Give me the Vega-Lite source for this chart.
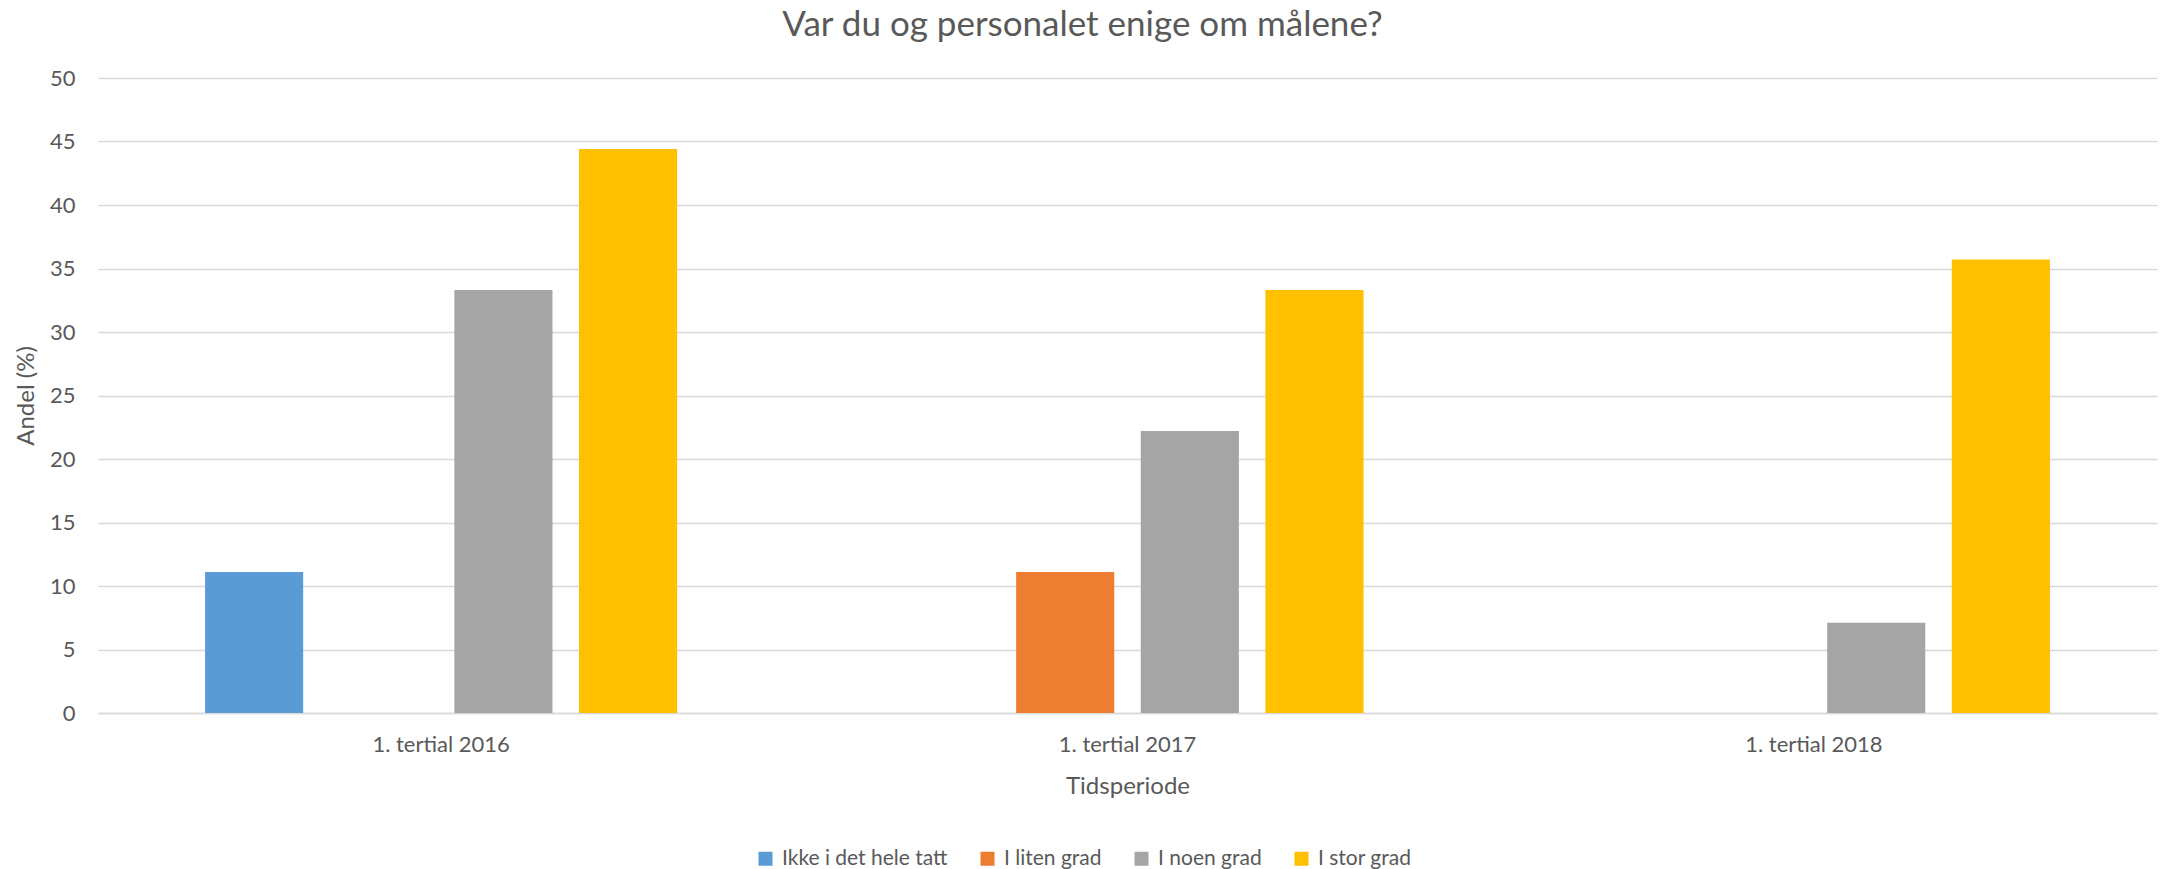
{
  "$schema": "https://vega.github.io/schema/vega-lite/v6.json",
  "autosize": "none",
  "width": 2059,
  "height": 635,
  "padding": {"left": 98, "top": 78, "right": 11, "bottom": 156},
  "background": "white",
  "title": {
    "text": "Var du og personalet enige om målene?",
    "anchor": "middle",
    "frame": "group",
    "fontSize": 35,
    "font": "Lato",
    "fontWeight": "normal",
    "color": "#595959",
    "offset": 24,
    "dx": -45
  },
  "data": {
    "values": [
      {"periode": "1. tertial 2016", "svar": "Ikke i det hele tatt", "andel": 11.1},
      {"periode": "1. tertial 2016", "svar": "I liten grad", "andel": 0},
      {"periode": "1. tertial 2016", "svar": "I noen grad", "andel": 33.3},
      {"periode": "1. tertial 2016", "svar": "I stor grad", "andel": 44.4},
      {"periode": "1. tertial 2017", "svar": "Ikke i det hele tatt", "andel": 0},
      {"periode": "1. tertial 2017", "svar": "I liten grad", "andel": 11.1},
      {"periode": "1. tertial 2017", "svar": "I noen grad", "andel": 22.2},
      {"periode": "1. tertial 2017", "svar": "I stor grad", "andel": 33.3},
      {"periode": "1. tertial 2018", "svar": "Ikke i det hele tatt", "andel": 0},
      {"periode": "1. tertial 2018", "svar": "I liten grad", "andel": 0},
      {"periode": "1. tertial 2018", "svar": "I noen grad", "andel": 7.1},
      {"periode": "1. tertial 2018", "svar": "I stor grad", "andel": 35.7}
    ]
  },
  "mark": {"type": "bar"},
  "encoding": {
    "x": {
      "field": "periode",
      "type": "nominal",
      "sort": null,
      "scale": {"paddingInner": 0.3123, "paddingOuter": 0.156},
      "axis": {
        "title": "Tidsperiode",
        "labelAngle": 0,
        "labelFont": "Lato",
        "labelFontSize": 22,
        "labelColor": "#595959",
        "labelPadding": 21,
        "titleFont": "Lato",
        "titleFontSize": 24,
        "titleFontWeight": "normal",
        "titleColor": "#595959",
        "titlePadding": 19,
        "ticks": false,
        "domainColor": "#D9D9D9",
        "domainWidth": 1.5
      }
    },
    "xOffset": {
      "field": "svar",
      "type": "nominal",
      "sort": ["Ikke i det hele tatt", "I liten grad", "I noen grad", "I stor grad"],
      "scale": {"paddingInner": 0.213, "paddingOuter": 0}
    },
    "y": {
      "field": "andel",
      "type": "quantitative",
      "scale": {"domain": [0, 50], "nice": false},
      "axis": {
        "title": "Andel (%)",
        "values": [0, 5, 10, 15, 20, 25, 30, 35, 40, 45, 50],
        "labelFont": "Lato",
        "labelFontSize": 22,
        "labelColor": "#595959",
        "labelPadding": 23,
        "titleFont": "Lato",
        "titleFontSize": 24,
        "titleFontWeight": "normal",
        "titleColor": "#595959",
        "titlePadding": 11,
        "ticks": false,
        "domain": false,
        "gridColor": "#D9D9D9",
        "gridWidth": 1.5
      }
    },
    "color": {
      "field": "svar",
      "type": "nominal",
      "sort": ["Ikke i det hele tatt", "I liten grad", "I noen grad", "I stor grad"],
      "scale": {
        "domain": ["Ikke i det hele tatt", "I liten grad", "I noen grad", "I stor grad"],
        "range": ["#5B9BD5", "#ED7D31", "#A5A5A5", "#FFC000"]
      },
      "legend": {
        "title": null,
        "orient": "none",
        "direction": "horizontal",
        "legendX": 657,
        "legendY": 770,
        "symbolType": "square",
        "symbolSize": 196,
        "symbolStrokeWidth": 0,
        "labelFont": "Lato",
        "labelFontSize": 21,
        "labelColor": "#595959",
        "labelOffset": 6,
        "labelLimit": 400,
        "columnPadding": 29
      }
    }
  },
  "config": {
    "view": {"stroke": null}
  }
}
